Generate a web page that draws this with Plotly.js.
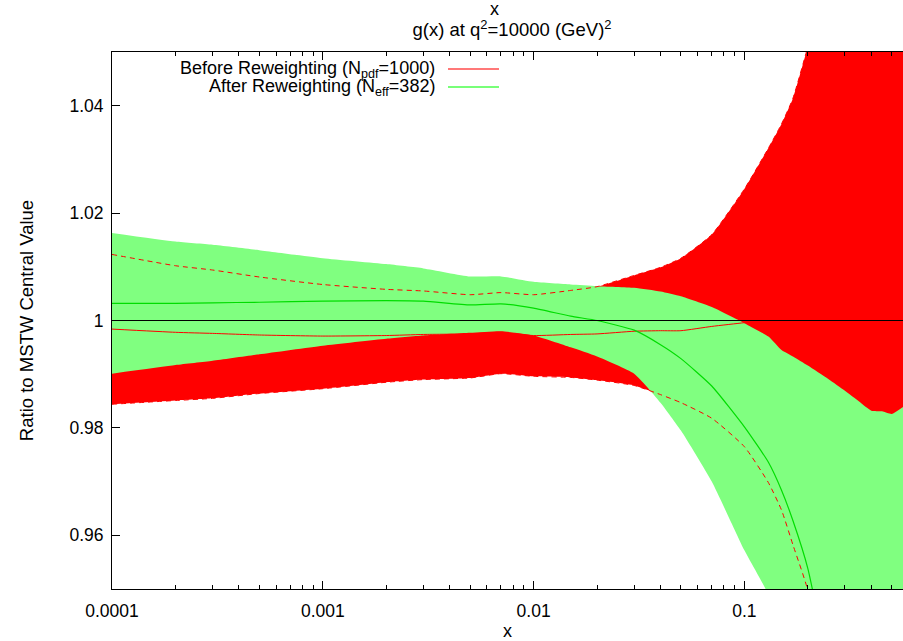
<!DOCTYPE html>
<html>
<head>
<meta charset="utf-8">
<script src="https://cdn.plot.ly/plotly-3.0.1.min.js"></script>
<style>html,body{margin:0;padding:0;background:#fff;}#chart{width:903px;height:641px;}</style>
</head>
<body>
<div id="chart"></div>
<script>
// x grid (momentum fraction)
const xs = [0.0001, 0.0002, 0.0003, 0.0005, 0.001, 0.002, 0.003, 0.005, 0.007, 0.01, 0.015, 0.02, 0.03, 0.04, 0.05, 0.07, 0.1, 0.13, 0.15, 0.17, 0.2, 0.25, 0.3, 0.35, 0.4, 0.45, 0.5, 0.566];

// Before reweighting (N_pdf = 1000): band edges and central value
const beforeLow  = [0.9844, 0.9851, 0.9855, 0.9864, 0.9873, 0.9885, 0.9890, 0.9893, 0.9901, 0.9896, 0.9894, 0.9889, 0.9879, 0.9862, 0.9847, 0.9818, 0.9765, 0.9698, 0.9647, 0.9582, 0.9497, 0.925, 0.905, 0.885, 0.865, 0.845, 0.825, 0.80];
const beforeHigh = [1.0123, 1.0102, 1.0094, 1.0081, 1.0067, 1.0058, 1.0055, 1.0048, 1.0052, 1.0048, 1.0056, 1.0063, 1.0084, 1.0099, 1.0116, 1.0160, 1.0245, 1.0321, 1.0366, 1.0414, 1.0510, 1.065, 1.080, 1.100, 1.120, 1.140, 1.160, 1.190];
const beforeMid  = [0.9984, 0.9978, 0.9976, 0.9973, 0.9971, 0.9972, 0.9974, 0.9975, 0.9978, 0.9972, 0.9974, 0.9975, 0.9980, 0.9981, 0.9981, 0.9989, 0.9996, 1.0002, 1.0004, 1.0006, 1.0008, 1.001, 1.002, 1.003, 1.004, 1.005, 1.006, 1.007];

// After reweighting (N_eff = 382): band edges and central value
const afterLow  = [0.9901, 0.9917, 0.9925, 0.9937, 0.9953, 0.9966, 0.9972, 0.9977, 0.9980, 0.9972, 0.9950, 0.9933, 0.9901, 0.9847, 0.9795, 0.9700, 0.9572, 0.9489, 0.940, 0.932, 0.920, 0.900, 0.880, 0.860, 0.840, 0.820, 0.800, 0.780];
const afterHigh = [1.0163, 1.0147, 1.0141, 1.0131, 1.0116, 1.0105, 1.0097, 1.0082, 1.0082, 1.0072, 1.0067, 1.0064, 1.0061, 1.0054, 1.0045, 1.0025, 0.9995, 0.9970, 0.9945, 0.9933, 0.9916, 0.9891, 0.9869, 0.9849, 0.9832, 0.9831, 0.9826, 0.9839];
const afterMid  = [1.0032, 1.0032, 1.0033, 1.0034, 1.0036, 1.0037, 1.0036, 1.0029, 1.0031, 1.0023, 1.0008, 1.0000, 0.9982, 0.9955, 0.9929, 0.9878, 0.9802, 0.9736, 0.9684, 0.9627, 0.9538, 0.935, 0.915, 0.895, 0.875, 0.855, 0.835, 0.815];

// axis ticks
const xTickVals = [0.0001, 0.001, 0.01, 0.1];
const xTickText = ['0.0001', '0.001', '0.01', '0.1'];
const xMinorVals = [0.0002,0.0003,0.0004,0.0005,0.0006,0.0007,0.0008,0.0009,
                    0.002,0.003,0.004,0.005,0.006,0.007,0.008,0.009,
                    0.02,0.03,0.04,0.05,0.06,0.07,0.08,0.09,
                    0.2,0.3,0.4,0.5];
const yTickVals = [0.96, 0.98, 1.0, 1.02, 1.04];
const yTickText = ['0.96', '0.98', '1', '1.02', '1.04'];

const RED = '#ff0000';
const LGREEN = '#80ff80';
const GREEN = '#00dd00';
const FONT = 'Liberation Sans, Arial, Helvetica, sans-serif';

const sm = {shape: 'spline', smoothing: 0.5};
const traces = [
  {x: xs, y: beforeLow, mode: 'lines', line: Object.assign({width: 0, color: RED}, sm), hoverinfo: 'skip', showlegend: false},
  {x: xs, y: beforeHigh, mode: 'lines', fill: 'tonexty', fillcolor: RED, line: Object.assign({width: 0, color: RED}, sm), hoverinfo: 'skip', showlegend: false},
  {x: xs, y: afterLow, mode: 'lines', line: Object.assign({width: 0, color: LGREEN}, sm), hoverinfo: 'skip', showlegend: false},
  {x: xs, y: afterHigh, mode: 'lines', fill: 'tonexty', fillcolor: LGREEN, line: Object.assign({width: 0, color: LGREEN}, sm), hoverinfo: 'skip', showlegend: false},
  {x: xs, y: beforeHigh, mode: 'lines', line: Object.assign({width: 1, color: RED, dash: '5px,4px'}, sm), showlegend: false},
  {x: xs, y: beforeLow, mode: 'lines', line: Object.assign({width: 1, color: RED, dash: '5px,4px'}, sm), showlegend: false},
  {x: xs, y: beforeMid, mode: 'lines', line: Object.assign({width: 1, color: RED}, sm), showlegend: false},
  {x: xs, y: afterMid, mode: 'lines', line: Object.assign({width: 1.2, color: GREEN}, sm), showlegend: false}
];

const W = 903, H = 641, L = 112, R = 0, T = 52, B = 52;
const pw = W - L - R, ph = H - T - B;
const px = v => (v - L) / pw;          // pixel -> paper x
const py = v => (H - B - v) / ph;      // pixel -> paper y

const layout = {
  width: W, height: H,
  margin: {l: L, r: R, t: T, b: B, pad: 0},
  paper_bgcolor: '#fff', plot_bgcolor: '#fff',
  font: {family: FONT, size: 17, color: '#000'},
  showlegend: false,
  title: {
    text: 'g(x) at q<sup>2</sup>=10000 (GeV)<sup>2</sup>',
    font: {family: FONT, size: 18.5, color: '#000'},
    x: px(512), xref: 'paper', xanchor: 'center',
    y: 1 - 30 / H, yref: 'container', yanchor: 'middle'
  },
  xaxis: {
    type: 'log', range: [-4, Math.log10(0.5655)],
    tickmode: 'array', tickvals: xTickVals, ticktext: xTickText,
    ticks: 'inside', ticklen: 8, tickwidth: 1, tickcolor: '#000',
    minor: {tickmode: 'array', tickvals: xMinorVals, ticks: 'inside', ticklen: 4, tickwidth: 1, tickcolor: '#000', showgrid: false},
    showline: true, linecolor: '#000', linewidth: 1, mirror: 'allticks',
    showgrid: false, zeroline: false,
    tickfont: {family: FONT, size: 17.5, color: '#000'},
    ticklabelstandoff: 6,
    title: {text: 'x', font: {family: FONT, size: 18, color: '#000'}, standoff: 7}
  },
  yaxis: {
    range: [0.95, 1.05],
    tickmode: 'array', tickvals: yTickVals, ticktext: yTickText,
    ticks: 'inside', ticklen: 8, tickwidth: 1, tickcolor: '#000',
    showline: true, linecolor: '#000', linewidth: 1, mirror: false,
    showgrid: false, zeroline: false,
    tickfont: {family: FONT, size: 17.5, color: '#000'},
    ticklabelstandoff: 4,
    title: {text: 'Ratio to MSTW Central Value', font: {family: FONT, size: 18.5, color: '#000'}, standoff: 30}
  },
  shapes: [
    {type: 'line', xref: 'paper', x0: 0, x1: 1, yref: 'y', y0: 1, y1: 1, line: {color: '#000', width: 1.2}, layer: 'above'},
    {type: 'line', xref: 'paper', x0: px(448), x1: px(499), yref: 'paper', y0: py(69), y1: py(69), line: {color: '#ff7878', width: 2}, layer: 'above'},
    {type: 'line', xref: 'paper', x0: px(448), x1: px(499), yref: 'paper', y0: py(87), y1: py(87), line: {color: '#78ff78', width: 2}, layer: 'above'}
  ],
  annotations: [
    {text: 'Before Reweighting (N<sub>pdf</sub>=1000)', xref: 'paper', yref: 'paper', x: px(437), y: py(69), xanchor: 'right', yanchor: 'middle', showarrow: false, font: {family: FONT, size: 18, color: '#000'}},
    {text: 'After Reweighting (N<sub>eff</sub>=382)', xref: 'paper', yref: 'paper', x: px(437), y: py(87), xanchor: 'right', yanchor: 'middle', showarrow: false, font: {family: FONT, size: 18, color: '#000'}},
    {text: 'x', xref: 'paper', yref: 'paper', x: px(494), y: py(9), xanchor: 'center', yanchor: 'middle', showarrow: false, font: {family: FONT, size: 18, color: '#000'}}
  ]
};

Plotly.newPlot('chart', traces, layout, {staticPlot: true, displayModeBar: false});
</script>
</body>
</html>
